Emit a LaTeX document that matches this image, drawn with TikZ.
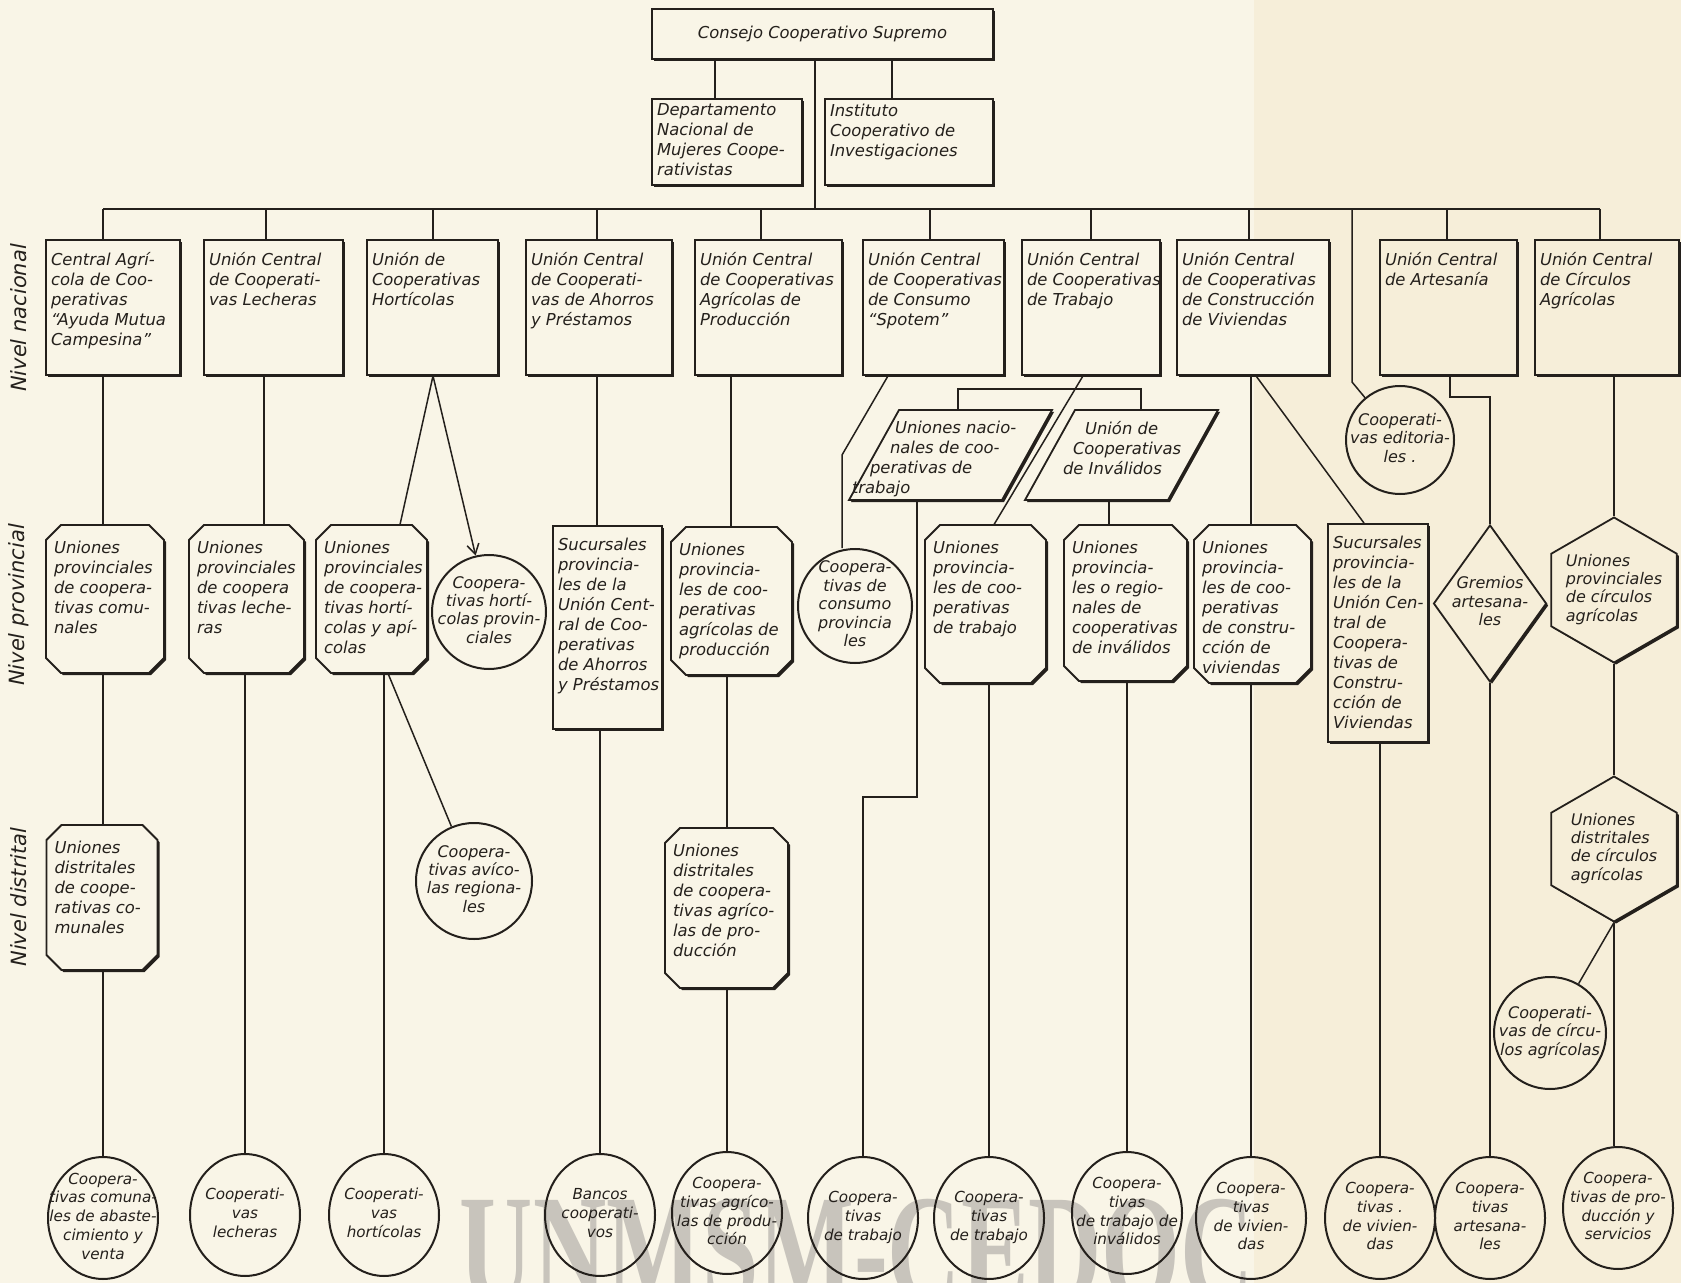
\documentclass[tikz,border=0pt]{standalone}
\usepackage{fontspec}
\setmainfont{DejaVu Sans}[ItalicFont={DejaVu Sans Oblique}]
\newfontfamily\wmfont{Liberation Serif}
\usetikzlibrary{shapes.misc,shapes.geometric,shadows,arrows.meta}
\definecolor{paperL}{RGB}{249,245,231}
\definecolor{paperR}{RGB}{246,238,217}
\definecolor{ink}{RGB}{36,32,28}
\definecolor{wm}{RGB}{200,196,188}
\newcommand\tb[3]{\makebox[0pt][l]{\hspace*{-0.5\dimexpr#1pt\relax}\raisebox{-0.5\dimexpr#2pt\relax}[0pt][0pt]{\parbox[b][#2pt][t]{\dimexpr#1pt+40pt\relax}{\raggedright#3}}}}
\newcommand\ctext[1]{\makebox[0pt]{\raisebox{-2pt}[0pt][0pt]{\begin{tabular}{@{}c@{}}#1\end{tabular}}}}
\newcommand\ltext[1]{\makebox[0pt]{\raisebox{-2pt}[0pt][0pt]{\begin{tabular}{@{}l@{}}#1\end{tabular}}}}
% parallelogram outline with shadow: #1 centre, #2 half width, #3 slant (px)
\newcommand\para[3]{%
 \begin{scope}[shift={#1}]
  \begin{scope}[shift={(2,2)}]
   \fill[ink] (-#2+#3,-45) -- (#2,-45) -- (#2-#3,45) -- (-#2,45) -- cycle;
  \end{scope}
  \filldraw[fill=paperL, draw=ink, line width=0.9pt] (-#2+#3,-45) -- (#2,-45) -- (#2-#3,45) -- (-#2,45) -- cycle;
 \end{scope}}
% octagon outline with shadow: #1 centre, #2 half width, #3 half height (px)
\newcommand\octo[3]{%
 \begin{scope}[shift={#1}]
  \begin{scope}[shift={(2,2)}]
   \fill[ink] (-#2+15,-#3) -- (#2-15,-#3) -- (#2,-#3+15) -- (#2,#3-15) -- (#2-15,#3) -- (-#2+15,#3) -- (-#2,#3-15) -- (-#2,-#3+15) -- cycle;
  \end{scope}
  \filldraw[fill=paperL, draw=ink, line width=0.9pt] (-#2+15,-#3) -- (#2-15,-#3) -- (#2,-#3+15) -- (#2,#3-15) -- (#2-15,#3) -- (-#2+15,#3) -- (-#2,#3-15) -- (-#2,-#3+15) -- cycle;
 \end{scope}}
\tikzset{
 fb/.style={font=\fontsize{8.2}{10}\selectfont\itshape},
 fc/.style={font=\fontsize{8}{9.2}\selectfont\itshape},
 fe/.style={font=\fontsize{7.6}{9.4}\selectfont\itshape},
 con/.style={draw=ink, line width=0.75pt},
 shd/.style={drop shadow={shadow xshift=1pt, shadow yshift=-1pt, fill=ink, opacity=1}},
 base/.style={draw=ink, line width=0.9pt, fill=paperL, inner sep=0pt, text=ink, shd},
 sz/.style 2 args={minimum width=#1pt, minimum height=#2pt},
 rbox/.style={base, rectangle, fb},
 ptext/.style={rectangle, inner sep=0pt, text=ink, fb},
 hbox/.style={base, regular polygon, regular polygon sides=6, shape border rotate=90, minimum size=72.5pt, fc},
 dbox/.style={base, diamond, fc},
 cir/.style={circle, draw=ink, line width=1pt, inner sep=0pt, text=ink, fc},
 ell/.style={ellipse, draw=ink, line width=1pt, inner sep=0pt, text=ink, fe, minimum width=55pt, minimum height=61pt},
 rside/.style={fill=paperR},
 lab/.style={text=ink, font=\fontsize{10.5}{12}\selectfont\itshape, rotate=90},
 arr/.style={-{Straight Barb[length=5pt,width=6pt]}},
}
\begin{document}
\begin{tikzpicture}[x=0.5pt,y=-0.5pt]
\useasboundingbox (0,0) rectangle (1681,1283);
\clip (0,0) rectangle (1681,1283);
\fill[paperL] (0,0) rectangle (1254,1283);
\fill[paperR] (1254,0) rectangle (1681,1283);
\node[text=wm, anchor=base, inner sep=0pt, font=\wmfont\bfseries\fontsize{78}{78}\selectfont] (wmk) at (857,1302) {\scalebox{0.65}[1]{UNMSM-CEDOC}};

% level labels
\node[lab] (lnac) at (19,318) {Nivel nacional};
\node[lab] (lpro) at (19,605) {Nivel provincial};
\node[lab] (ldis) at (19,897) {Nivel distrital};

% top
\node[rbox, sz={170.5}{25}] (sup) at (822.5,34) {Consejo Cooperativo Supremo};
\node[rbox, sz={75}{43}] (dep) at (727,142) {\tb{70}{38}{Departamento\\Nacional de\\Mujeres Coope-\\rativistas}};
\node[rbox, sz={84}{43}] (ins) at (909,142) {\tb{79}{38}{Instituto\\Cooperativo de\\Investigaciones}};

% national level
\node[rbox, sz={67}{67.5}] (c1) at (113,307.5) {\tb{62}{55.5}{Central Agrí-\\cola de Coo-\\perativas\\“Ayuda Mutua\\Campesina”}};
\node[rbox, sz={69.5}{67.5}] (c2) at (273.5,307.5) {\tb{64.5}{55.5}{Unión Central\\de Cooperati-\\vas Lecheras}};
\node[rbox, sz={65.5}{67.5}] (c3) at (432.5,307.5) {\tb{60.5}{55.5}{Unión de\\Cooperativas\\Hortícolas}};
\node[rbox, sz={73}{67.5}] (c4) at (599,307.5) {\tb{68}{55.5}{Unión Central\\de Cooperati-\\vas de Ahorros\\y Préstamos}};
\node[rbox, sz={73.5}{67.5}] (c5) at (768.5,307.5) {\tb{68.5}{55.5}{Unión Central\\de Cooperativas\\Agrícolas de\\Producción}};
\node[rbox, sz={70.5}{67.5}] (c6) at (933.5,307.5) {\tb{65.5}{55.5}{Unión Central\\de Cooperativas\\de Consumo\\“Spotem”}};
\node[rbox, sz={69}{67.5}] (c7) at (1091,307.5) {\tb{64}{55.5}{Unión Central\\de Cooperativas\\de Trabajo}};
\node[rbox, sz={76}{67.5}] (c8) at (1253,307.5) {\tb{71}{55.5}{Unión Central\\de Cooperativas\\de Construcción\\de Viviendas}};
\node[rbox, sz={68.5}{67.5}, rside] (c9) at (1448.5,307.5) {\tb{63.5}{55.5}{Unión Central\\de Artesanía}};
\node[rbox, sz={72}{67.5}, rside] (c10) at (1607,307.5) {\tb{67}{55.5}{Unión Central\\de Círculos\\Agrícolas}};

% second national row (parallelograms)
\para{(950.5,455)}{101.5}{50}
\para{(1121.5,455)}{96.5}{50}
\node[ptext, sz={101.5}{45}] (par1) at (950.5,455) {\tb{101.5}{34}{\hspace*{23pt}Uniones nacio-\\\hspace*{20.5pt}nales de coo-\\\hspace*{10.5pt}perativas de\\\hspace*{1.5pt}trabajo}};
\node[ptext, sz={96.5}{45}] (par2) at (1121.5,455) {\tb{96.5}{34}{\hspace*{30pt}Unión de\\\hspace*{24pt}Cooperativas\\\hspace*{19pt}de Inválidos}};
\node[cir, minimum size=54pt] (ed) at (1400,440) {\ctext{Cooperati-\\vas editoria-\\les .}};

% octagon outlines
\octo{(105,599)}{59}{74}
\octo{(246.5,599)}{57.5}{74}
\octo{(371.5,599)}{55.5}{74}
\octo{(731.5,601)}{60.5}{74}
\octo{(985.5,604)}{60.5}{79}
\octo{(1125.5,603)}{61.5}{78}
\octo{(1252.5,604)}{58.5}{79}
\octo{(102,897.5)}{55.5}{72.5}
\octo{(726.5,908)}{61.5}{80}

% provincial level
\node[ptext, sz={59}{74}] (p1) at (105,599) {\tb{51}{58}{Uniones\\provinciales\\de coopera-\\tivas comu-\\nales}};
\node[ptext, sz={57.5}{74}] (p2) at (246.5,599) {\tb{49.5}{58}{Uniones\\provinciales\\de coopera\\tivas leche-\\ras}};
\node[ptext, sz={55.5}{74}] (p3) at (371.5,599) {\tb{47.5}{58}{Uniones\\provinciales\\de coopera-\\tivas hortí-\\colas y apí-\\colas}};
\node[cir, minimum size=57pt] (hp) at (489,612) {\ctext{Coopera-\\tivas hortí-\\colas provin-\\ciales}};
\node[rbox, sz={54.5}{101.5}] (s4) at (607.5,627.5) {\tb{49.5}{89.5}{Sucursales\\provincia-\\les de la\\Unión Cent-\\ral de Coo-\\perativas\\de Ahorros\\y Préstamos}};
\node[ptext, sz={60.5}{74}] (p5) at (731.5,601) {\tb{52.5}{58}{Uniones\\provincia-\\les de coo-\\perativas\\agrícolas de\\producción}};
\node[cir, minimum size=57pt] (cons) at (855,606) {\ctext{Coopera-\\tivas de\\consumo\\provincia\\les}};
\node[ptext, sz={60.5}{79}] (p7) at (985.5,604) {\tb{52.5}{63}{Uniones\\provincia-\\les de coo-\\perativas\\de trabajo}};
\node[ptext, sz={61.5}{78}] (pinv) at (1125.5,603) {\tb{53.5}{62}{Uniones\\provincia-\\les o regio-\\nales de\\cooperativas\\de inválidos}};
\node[ptext, sz={58.5}{79}] (p8) at (1252.5,604) {\tb{50.5}{63}{Uniones\\provincia-\\les de coo-\\perativas\\de constru-\\cción de\\viviendas}};
\node[rbox, sz={50}{109}, rside] (s8) at (1378,633) {\tb{45}{97}{Sucursales\\provincia-\\les de la\\Unión Cen-\\tral de\\Coopera-\\tivas de\\Constru-\\cción de\\Viviendas}};
\node[dbox, sz={56.5}{78.5}, rside] (gr) at (1490,603.5) {\ctext{Gremios\\artesana-\\les}};
\node[hbox, rside] (h1) at (1614,590) {\ltext{Uniones\\provinciales\\de círculos\\agrícolas}};

% district level
\node[ptext, sz={55.5}{72.5}] (d1) at (102,897.5) {\tb{47.5}{56.5}{Uniones\\distritales\\de coope-\\rativas co-\\munales}};
\node[cir, minimum size=58pt] (av) at (474,881) {\ctext{Coopera-\\tivas avíco-\\las regiona-\\les}};
\node[ptext, sz={61.5}{80}] (d5) at (726.5,908) {\tb{53.5}{64}{Uniones\\distritales\\de coopera-\\tivas agríco-\\las de pro-\\ducción}};
\node[hbox, rside] (h2) at (1614,849) {\ltext{Uniones\\distritales\\de círculos\\agrícolas}};
\node[cir, minimum size=56pt] (cc) at (1550,1033) {\ctext{Cooperati-\\vas de círcu-\\los agrícolas}};

% base level
\node[ell] (b1) at (103,1218) {\ctext{Coopera-\\tivas comuna-\\les de abaste-\\cimiento y\\venta}};
\node[ell] (b2) at (245,1215) {\ctext{Cooperati-\\vas\\lecheras}};
\node[ell] (b3) at (384,1215) {\ctext{Cooperati-\\vas\\hortícolas}};
\node[ell] (b4) at (600,1215) {\ctext{Bancos\\cooperati-\\vos}};
\node[ell] (b5) at (727,1213) {\ctext{Coopera-\\tivas agríco-\\las de produ-\\cción}};
\node[ell] (b6) at (863,1218) {\ctext{Coopera-\\tivas\\de trabajo}};
\node[ell] (b7) at (989,1218) {\ctext{Coopera-\\tivas\\de trabajo}};
\node[ell] (b8) at (1127,1213) {\ctext{Coopera-\\tivas\\de trabajo de\\inválidos}};
\node[ell] (b9) at (1251,1218) {\ctext{Coopera-\\tivas\\de vivien-\\das}};
\node[ell] (b10) at (1380,1218) {\ctext{Coopera-\\tivas .\\de vivien-\\das}};
\node[ell] (b11) at (1490,1218) {\ctext{Coopera-\\tivas\\artesana-\\les}};
\node[ell] (b12) at (1618,1208) {\ctext{Coopera-\\tivas de pro-\\ducción y\\servicios}};

% coordinates
\coordinate (j0) at (815,209);
\coordinate (bl) at (103,209);
\coordinate (br) at (1600,209);
\coordinate (t1) at (103,209);
\coordinate (t2) at (266,209);
\coordinate (t3) at (433,209);
\coordinate (t4) at (597,209);
\coordinate (t5) at (761,209);
\coordinate (t6) at (930,209);
\coordinate (t7) at (1091,209);
\coordinate (t8) at (1249,209);
\coordinate (t9) at (1447,209);
\coordinate (t10) at (1600,209);
\coordinate (ted) at (1352,209);
\coordinate (k9) at (1352,382);
\coordinate (k6) at (842,455);
\coordinate (k7a) at (958,389);
\coordinate (k7b) at (1141,389);
\coordinate (k8a) at (917,797);
\coordinate (k8b) at (863,797);
\coordinate (k9a) at (1450,397);
\coordinate (k9b) at (1490,397);

% connectors
\draw[con] (sup.south -| 715,0) -- (dep.north -| 715,0);
\draw[con] (sup.south -| 892,0) -- (ins.north -| 892,0);
\draw[con] (sup.south -| j0) -- (j0);
\draw[con] (bl) -- (br);
\foreach \i in {1,...,10} \draw[con] (t\i) -- (t\i |- c\i.north);
\draw[con] (ted) -- (k9) -- (ed);
% col 1
\draw[con] (c1.south -| t1) -- (p1.north -| t1);
\draw[con] (p1.south -| t1) -- (d1.north -| t1);
\draw[con] (d1.south -| t1) -- (b1.north);
% col 2
\draw[con] (c2.south -| 264,0) -- (p2.north -| 264,0);
\draw[con] (p2.south -| b2) -- (b2.north);
% col 3
\draw[con] (c3.south -| t3) -- (p3.north -| 400,0);
\draw[con, arr] (c3.south -| t3) -- (hp);
\draw[con] (p3.south -| b3) -- (b3.north);
\draw[con] (p3.south -| 388,0) -- (av);
% col 4
\draw[con] (c4.south -| t4) -- (s4.north -| t4);
\draw[con] (s4.south -| b4) -- (b4.north);
% col 5
\draw[con] (c5.south -| 731,0) -- (p5.north -| 731,0);
\draw[con] (p5.south -| b5) -- (d5.north -| b5);
\draw[con] (d5.south -| b5) -- (b5.north);
% col 6
\draw[con] (c6.south -| 888,0) -- (k6) -- (k6 |- cons.north);
% col 7
\draw[con] (c7.south -| 1083,0) -- (p7.north -| 994,0);
\draw[con] (par1.north -| k7a) -- (k7a) -- (k7b) -- (par2.north -| k7b);
\draw[con] (par1.south -| k8a) -- (k8a) -- (k8b) -- (b6.north);
\draw[con] (p7.south -| b7) -- (b7.north);
\draw[con] (par2.south -| 1109,0) -- (pinv.north -| 1109,0);
\draw[con] (pinv.south -| b8) -- (b8.north);
% col 8
\draw[con] (c8.south -| 1251,0) -- (p8.north -| 1251,0);
\draw[con] (p8.south -| b9) -- (b9.north);
\draw[con] (c8.south -| 1256,0) -- (s8.north -| 1364,0);
\draw[con] (s8.south -| b10) -- (b10.north);
% col 9
\draw[con] (c9.south -| k9a) -- (k9a) -- (k9b) -- (gr.north);
\draw[con] (gr.south) -- (b11.north);
% col 10
\draw[con] (c10.south -| h1) -- (h1.north);
\draw[con] (h1.south) -- (h2.north);
\draw[con] (h2.south) -- (h2.south |- b12.north);
\draw[con] (h2.south) -- (cc);
\end{tikzpicture}
\end{document}
